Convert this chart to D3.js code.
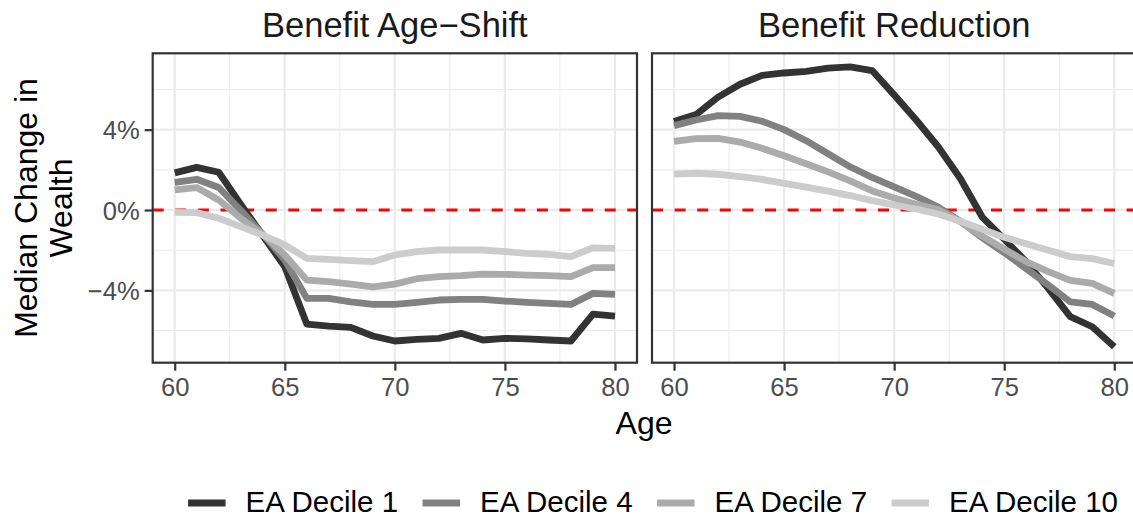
<!DOCTYPE html>
<html>
<head>
<meta charset="utf-8">
<script src="https://cdn.jsdelivr.net/npm/d3@7"></script>
<style>
  html, body { margin: 0; padding: 0; background: #ffffff; }
  svg { display: block; font-family: "Liberation Sans", Arial, Helvetica, sans-serif; }
</style>
</head>
<body>
<svg id="chart" width="1133" height="518"></svg>
<script>
// Ages on the x axis
const ages = [60, 61, 62, 63, 64, 65, 66, 67, 68, 69, 70, 71, 72, 73, 74, 75, 76, 77, 78, 79, 80];

// Panels and series
const panels = ["Benefit Age\u2212Shift", "Benefit Reduction"];
const deciles = ["EA Decile 1", "EA Decile 4", "EA Decile 7", "EA Decile 10"];

// Median change in wealth (%), benefit age-shift
const shiftD1  = [1.85, 2.12, 1.88, 0.28, -1.27, -2.82, -5.68, -5.78, -5.84, -6.27, -6.52, -6.44, -6.39, -6.14, -6.47, -6.39, -6.41, -6.47, -6.52, -5.18, -5.28];
const shiftD4  = [1.38, 1.53, 1.12, -0.02, -1.20, -2.49, -4.40, -4.40, -4.57, -4.70, -4.70, -4.60, -4.48, -4.45, -4.45, -4.53, -4.60, -4.65, -4.70, -4.15, -4.20];
const shiftD7  = [1.00, 1.12, 0.50, -0.41, -1.21, -2.24, -3.49, -3.57, -3.69, -3.82, -3.69, -3.42, -3.32, -3.27, -3.19, -3.20, -3.24, -3.27, -3.32, -2.87, -2.87];
const shiftD10 = [-0.12, -0.13, -0.41, -0.83, -1.25, -1.74, -2.41, -2.46, -2.52, -2.57, -2.24, -2.07, -1.99, -1.99, -1.99, -2.07, -2.16, -2.21, -2.32, -1.88, -1.91];

// Median change in wealth (%), benefit reduction
const reduceD1  = [4.40, 4.75, 5.62, 6.26, 6.70, 6.82, 6.90, 7.06, 7.12, 6.94, 5.73, 4.48, 3.15, 1.58, -0.35, -1.45, -2.58, -3.90, -5.31, -5.81, -6.81];
const reduceD4  = [4.20, 4.48, 4.70, 4.66, 4.42, 4.00, 3.45, 2.80, 2.15, 1.62, 1.15, 0.68, 0.15, -0.55, -1.38, -2.12, -2.92, -3.73, -4.57, -4.70, -5.28];
const reduceD7  = [3.42, 3.55, 3.57, 3.38, 3.07, 2.70, 2.30, 1.90, 1.45, 0.95, 0.60, 0.28, 0.02, -0.58, -1.30, -1.95, -2.57, -3.07, -3.50, -3.65, -4.15];
const reduceD10 = [1.79, 1.83, 1.78, 1.66, 1.52, 1.33, 1.14, 0.94, 0.72, 0.47, 0.25, 0.05, -0.20, -0.56, -0.95, -1.36, -1.68, -2.00, -2.32, -2.42, -2.66];

// Axis ticks
const xTicks = [60, 65, 70, 75, 80];
const xMinor = [62.5, 67.5, 72.5, 77.5];
const yTicks = [-4, 0, 4];
const yMinor = [-6, -2, 2, 6];
const yTickLabels = ["\u22124%", "0%", "4%"];

const seriesByPanel = [
  [shiftD1, shiftD4, shiftD7, shiftD10],
  [reduceD1, reduceD4, reduceD7, reduceD10]
];

const colors = ["#333333", "#818181", "#ababab", "#cccccc"];

const svg = d3.select("#chart");
svg.append("rect").attr("width", 1133).attr("height", 518).attr("fill", "#ffffff");

const panelTop = 53.3, panelBottom = 362.7;
const panelBoxes = [
  { x0: 152.7, x1: 637.0 },
  { x0: 652.0, x1: 1136.3 }
];

const y = d3.scaleLinear().domain([-7.6, 7.8]).range([panelBottom, panelTop]);
const fontFam = "'Liberation Sans', Arial, Helvetica, sans-serif";
const defs = svg.append("defs");

panelBoxes.forEach((box, pi) => {
  const x = d3.scaleLinear().domain([59, 81]).range([box.x0, box.x1]);
  const g = svg.append("g");
  const clipId = "clip" + pi;
  defs.append("clipPath").attr("id", clipId)
    .append("rect").attr("x", box.x0).attr("y", panelTop)
    .attr("width", box.x1 - box.x0).attr("height", panelBottom - panelTop);

  // grid
  const grid = g.append("g");
  grid.selectAll(".ymin").data(yMinor).join("line")
    .attr("x1", box.x0).attr("x2", box.x1)
    .attr("y1", d => y(d)).attr("y2", d => y(d))
    .attr("stroke", "#ebebeb").attr("stroke-width", 1.1);
  grid.selectAll(".xmin").data(xMinor).join("line")
    .attr("y1", panelTop).attr("y2", panelBottom)
    .attr("x1", d => x(d)).attr("x2", d => x(d))
    .attr("stroke", "#ebebeb").attr("stroke-width", 1.1);
  grid.selectAll(".ymaj").data(yTicks).join("line")
    .attr("x1", box.x0).attr("x2", box.x1)
    .attr("y1", d => y(d)).attr("y2", d => y(d))
    .attr("stroke", "#ebebeb").attr("stroke-width", 2.2);
  grid.selectAll(".xmaj").data(xTicks).join("line")
    .attr("y1", panelTop).attr("y2", panelBottom)
    .attr("x1", d => x(d)).attr("x2", d => x(d))
    .attr("stroke", "#ebebeb").attr("stroke-width", 2.2);

  // zero reference line
  g.append("line")
    .attr("x1", box.x0).attr("x2", box.x1)
    .attr("y1", y(0)).attr("y2", y(0))
    .attr("stroke", "#ff0000").attr("stroke-width", 3)
    .attr("stroke-dasharray", "11,11.6");

  // series lines
  const line = d3.line().x((d, i) => x(ages[i])).y(d => y(d));
  g.append("g").attr("clip-path", `url(#${clipId})`)
    .selectAll("path").data(seriesByPanel[pi]).join("path")
    .attr("d", d => line(d))
    .attr("fill", "none")
    .attr("stroke", (d, i) => colors[i])
    .attr("stroke-width", 6.8)
    .attr("stroke-linejoin", "round")
    .attr("stroke-linecap", "butt");

  // panel border
  g.append("rect")
    .attr("x", box.x0).attr("y", panelTop)
    .attr("width", box.x1 - box.x0).attr("height", panelBottom - panelTop)
    .attr("fill", "none").attr("stroke", "#333333").attr("stroke-width", 2.2);

  // x axis
  const xAxis = d3.axisBottom(x).tickValues(xTicks).tickSize(8).tickPadding(7).tickFormat(d3.format("d"));
  const xa = svg.append("g").attr("transform", `translate(0,${panelBottom})`).call(xAxis);
  xa.select(".domain").remove();
  xa.selectAll(".tick line").attr("stroke", "#333333").attr("stroke-width", 2.2);
  xa.selectAll(".tick text").attr("fill", "#4d4d4d").attr("font-size", 25.6)
    .attr("font-family", fontFam).attr("dy", "0.71em");

  // strip title
  svg.append("text")
    .attr("x", (box.x0 + box.x1) / 2).attr("y", 36.7)
    .attr("text-anchor", "middle").attr("font-size", 34.5)
    .attr("font-family", fontFam).attr("fill", "#1a1a1a")
    .text(panels[pi]);
});

// y axis on the left panel
const yAxis = d3.axisLeft(y).tickValues(yTicks).tickSize(8).tickPadding(5)
  .tickFormat((d, i) => yTickLabels[i]);
const ya = svg.append("g").attr("transform", `translate(${panelBoxes[0].x0},0)`).call(yAxis);
ya.select(".domain").remove();
ya.selectAll(".tick line").attr("stroke", "#333333").attr("stroke-width", 2.2);
ya.selectAll(".tick text").attr("fill", "#4d4d4d").attr("font-size", 25.6)
  .attr("font-family", fontFam).attr("dy", "0.36em");

// axis titles
svg.append("text")
  .attr("x", 644).attr("y", 434)
  .attr("text-anchor", "middle").attr("font-size", 32)
  .attr("font-family", fontFam).attr("fill", "#000000")
  .text("Age");

const yTitle = svg.append("g").attr("transform", `translate(0,${(panelTop + panelBottom) / 2}) rotate(-90)`);
["Median Change in", "Wealth"].forEach((t, i) => {
  yTitle.append("text")
    .attr("x", 0).attr("y", 36.7 + i * 35)
    .attr("text-anchor", "middle").attr("font-size", 32)
    .attr("font-family", fontFam).attr("fill", "#000000")
    .text(t);
});

// legend
const legend = svg.append("g");
const keyW = 37.5, keyGap = 20, itemGap = 24.5, legendY = 503;
let cursor = 0;
deciles.forEach((name, i) => {
  const item = legend.append("g");
  item.append("line")
    .attr("x1", 0).attr("x2", keyW).attr("y1", legendY).attr("y2", legendY)
    .attr("stroke", colors[i]).attr("stroke-width", 6.8);
  const txt = item.append("text")
    .attr("x", keyW + keyGap).attr("y", 511.5)
    .attr("font-size", 29.5).attr("font-family", fontFam).attr("fill", "#000000")
    .text(name);
  const w = keyW + keyGap + txt.node().getComputedTextLength();
  item.attr("transform", `translate(${cursor},0)`);
  cursor += w + itemGap;
});
const legendWidth = cursor - itemGap;
legend.attr("transform", `translate(${653 - legendWidth / 2},0)`);
</script>
</body>
</html>
